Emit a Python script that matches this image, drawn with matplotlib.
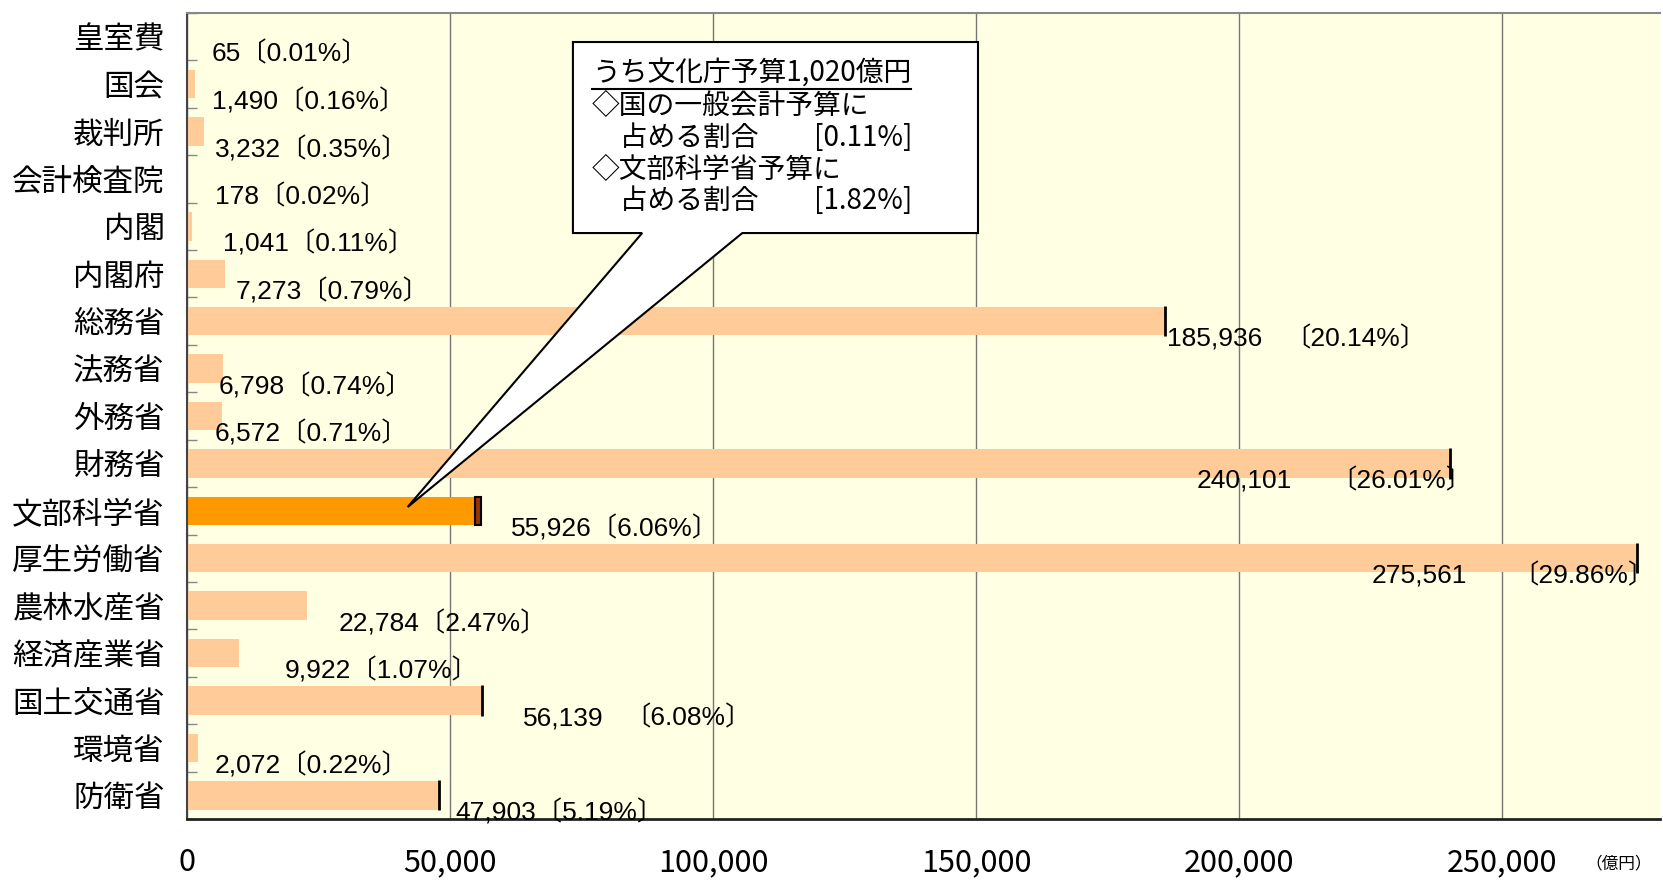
import matplotlib
matplotlib.use('Agg')
import matplotlib.pyplot as plt
from matplotlib.patches import Polygon
from matplotlib.lines import Line2D
from matplotlib.transforms import IdentityTransform

# ---------------- data ----------------
categories = ['皇室費', '国会', '裁判所', '会計検査院', '内閣', '内閣府', '総務省', '法務省',
              '外務省', '財務省', '文部科学省', '厚生労働省', '農林水産省', '経済産業省',
              '国土交通省', '環境省', '防衛省']
values = [65, 1490, 3232, 178, 1041, 7273, 185936, 6798, 6572, 240101, 55926, 275561,
          22784, 9922, 56139, 2072, 47903]
shares = [0.01, 0.16, 0.35, 0.02, 0.11, 0.79, 20.14, 0.74, 0.71, 26.01, 6.06, 29.86,
          2.47, 1.07, 6.08, 0.22, 5.19]
highlight = '文部科学省'
end_marked = ['総務省', '財務省', '厚生労働省', '国土交通省', '防衛省']
xticks = [0, 50000, 100000, 150000, 200000, 250000]
unit_label = '（億円）'
callout_title = 'うち文化庁予算1,020億円'
callout_lines = ['◇国の一般会計予算に', '　占める割合　　[0.11%]',
                 '◇文部科学省予算に', '　占める割合　　[1.82%]']

# label placement (x in data units for the number and for the bracket)
num_x = [4750, 4750, 5300, 5300, 6800, 9200, 186300, 6000, 5300, 191900, 61600, 225100,
         28900, 18500, 63900, 5200, 51100]
br_x = [11200, 18100, 18500, 14300, 17900, 22300, 210800, 17900, 18500, 219500, 76800,
        254200, 41100, 31000, 85400, 17300, 68800]

# ---------------- style ----------------
plt.rcParams['font.family'] = ['Noto Sans CJK JP', 'DejaVu Sans']
num_family = ['Liberation Sans', 'Noto Sans CJK JP']

bar_color = '#FFCC99'
hl_color = '#FF9900'
bg_color = '#FFFFE3'
LBL_FS = 19

W, H = 1663, 882
fig = plt.figure(figsize=(W / 100, H / 100), dpi=100)
ax = fig.add_axes([187 / W, 1 - 819 / H, (1660 - 187) / W, (819 - 13) / H])
ax.set_facecolor(bg_color)

n = len(categories)
ypos = list(range(n))
colors = [hl_color if c == highlight else bar_color for c in categories]
ax.barh(ypos, values, height=0.6, color=colors, zorder=2)

# end markers
for i, c in enumerate(categories):
    if c in end_marked:
        ax.vlines(values[i], i - 0.32, i + 0.32, color='black', lw=2, zorder=3)
    if c == highlight:
        ax.barh(i, 1100, left=values[i] - 1100, height=0.6, color='#993300',
                edgecolor='black', lw=1.5, zorder=3)

ax.set_xlim(0, 280000)
ax.set_ylim(n - 0.5, -0.5)

# grid / ticks
ax.set_xticks(xticks)
ax.set_xticklabels([f'{t:,}' for t in xticks], fontsize=22)
ax.xaxis.grid(True, color='#777777', lw=1, zorder=1)
ax.set_axisbelow(True)
ax.tick_params(axis='x', length=0, pad=20)

ax.set_yticks(ypos)
ax.set_yticklabels(categories, fontsize=22)
ax.tick_params(axis='y', length=0, pad=16)
ax.set_yticks([i + 0.5 for i in range(-1, n)], minor=True)
ax.tick_params(axis='y', which='minor', direction='in', length=7, color='#888888', width=1)

ax.spines['top'].set_color('#888888')
ax.spines['top'].set_linewidth(1.5)
ax.spines['left'].set_color('#444444')
ax.spines['left'].set_linewidth(1.5)
ax.spines['bottom'].set_color('#222222')
ax.spines['bottom'].set_linewidth(2)
ax.spines['right'].set_visible(False)

# value numbers
num_texts = []
for i in range(n):
    t = ax.text(num_x[i], i + 0.37, f'{values[i]:,}', fontsize=LBL_FS, family=num_family,
                va='center', ha='left', zorder=5)
    num_texts.append(t)

fig.text(1619 / W, 1 - 864 / H, unit_label, fontsize=12, ha='center', va='center')

# callout
L, R, T, B = 0.262, 0.537, 0.964, 0.727
p1, p2 = 0.309, 0.377
ihl = categories.index(highlight)
tip_disp = ax.transData.transform((values[ihl] * 0.75, ihl - 0.08))
tx, ty = ax.transAxes.inverted().transform(tip_disp)
poly = Polygon([(L, T), (R, T), (R, B), (p2, B), (tx, ty), (p1, B), (L, B)], closed=True,
               transform=ax.transAxes, facecolor='white', edgecolor='black', lw=1.5,
               zorder=10, clip_on=False)
ax.add_patch(poly)

x0 = 592 / W
line_y = [74, 106, 138, 170, 201]
t0 = fig.text(x0, 1 - line_y[0] / H, callout_title, fontsize=20, va='center', ha='left',
              zorder=11)
for k, s in enumerate(callout_lines):
    fig.text(x0, 1 - line_y[k + 1] / H, s, fontsize=20, va='center', ha='left', zorder=11)

fig.canvas.draw()
renderer = fig.canvas.get_renderer()

# brackets: separate text where the reference leaves a wide gap, else joined to the number
em = LBL_FS * 100 / 72
for i in range(n):
    ext = num_texts[i].get_window_extent(renderer)
    want_x, yc = ax.transData.transform((br_x[i], i + 0.37))
    bracket = f'〔{shares[i]:.2f}%〕'
    origin = want_x - 0.45 * em
    if origin < ext.x1 + 2:
        num_texts[i].set_text(f'{values[i]:,}' + bracket)
    else:
        fig.text(origin, yc, bracket, fontsize=LBL_FS, family=num_family,
                 va='center', ha='left', zorder=5, transform=IdentityTransform())

bb = t0.get_window_extent(renderer).transformed(fig.transFigure.inverted())
fig.add_artist(Line2D([bb.x0, bb.x1], [1 - 89 / H, 1 - 89 / H], color='black', lw=1.5,
                      transform=fig.transFigure, zorder=11))

fig.savefig('out.png', dpi=100, facecolor='white')
